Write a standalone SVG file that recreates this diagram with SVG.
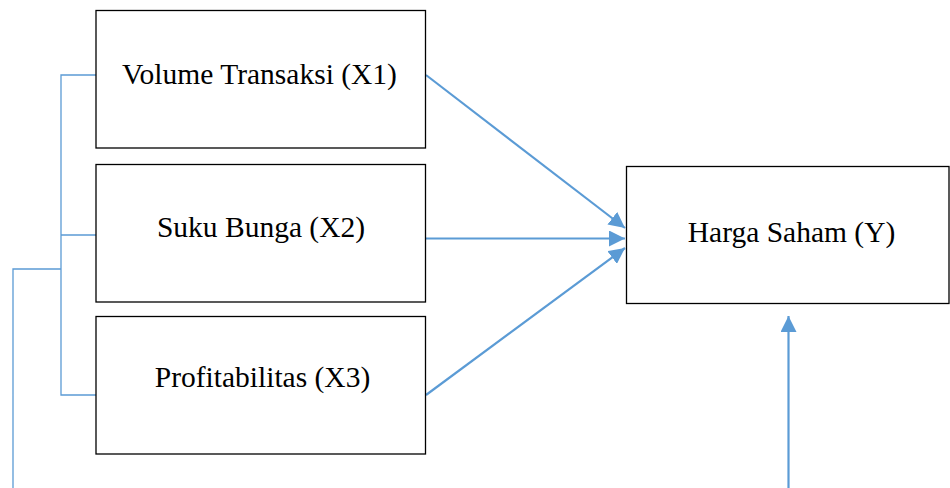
<svg xmlns="http://www.w3.org/2000/svg" width="950" height="488" viewBox="0 0 950 488">
<style>
.box{fill:#fff;stroke:#000;stroke-width:1.3}
.t{font-family:"Liberation Serif","Times New Roman",serif;font-size:29.5px;fill:#000;text-anchor:middle}
.c{fill:none;stroke:#5B9BD5;stroke-width:2.2}
.b{fill:none;stroke:#5B9BD5;stroke-width:1.3}
</style>
<defs>
<marker id="ah" markerUnits="userSpaceOnUse" markerWidth="18" markerHeight="16" refX="16" refY="8" orient="auto">
<path d="M0,0 L16,8 L0,16 Z" fill="#5B9BD5"/>
</marker>
</defs>
<g id="connectors">
<path class="b" d="M96,75 H61 V395 H96 M61,235 H96 M61,269 H13 V488"/>
<line class="c" x1="426" y1="75" x2="625" y2="228" marker-end="url(#ah)"/>
<line class="c" x1="426" y1="238.5" x2="625" y2="238.5" marker-end="url(#ah)"/>
<line class="c" x1="426" y1="395" x2="625" y2="248" marker-end="url(#ah)"/>
<line class="c" x1="788.5" y1="488" x2="788.5" y2="316" marker-end="url(#ah)"/>
</g>
<g id="x1">
<rect class="box" x="96" y="10.5" width="329.5" height="137.5"/>
<text class="t" x="259.5" y="83.5">Volume Transaksi (X1)</text>
</g>
<g id="x2">
<rect class="box" x="96" y="164.5" width="329.5" height="137.5"/>
<text class="t" x="261" y="236.7">Suku Bunga (X2)</text>
</g>
<g id="x3">
<rect class="box" x="96" y="316.5" width="329.5" height="137.5"/>
<text class="t" x="262.5" y="387.3">Profitabilitas (X3)</text>
</g>
<g id="y">
<rect class="box" x="626.5" y="166.5" width="322.5" height="137"/>
<text class="t" x="791.5" y="241.7">Harga Saham (Y)</text>
</g>
</svg>
